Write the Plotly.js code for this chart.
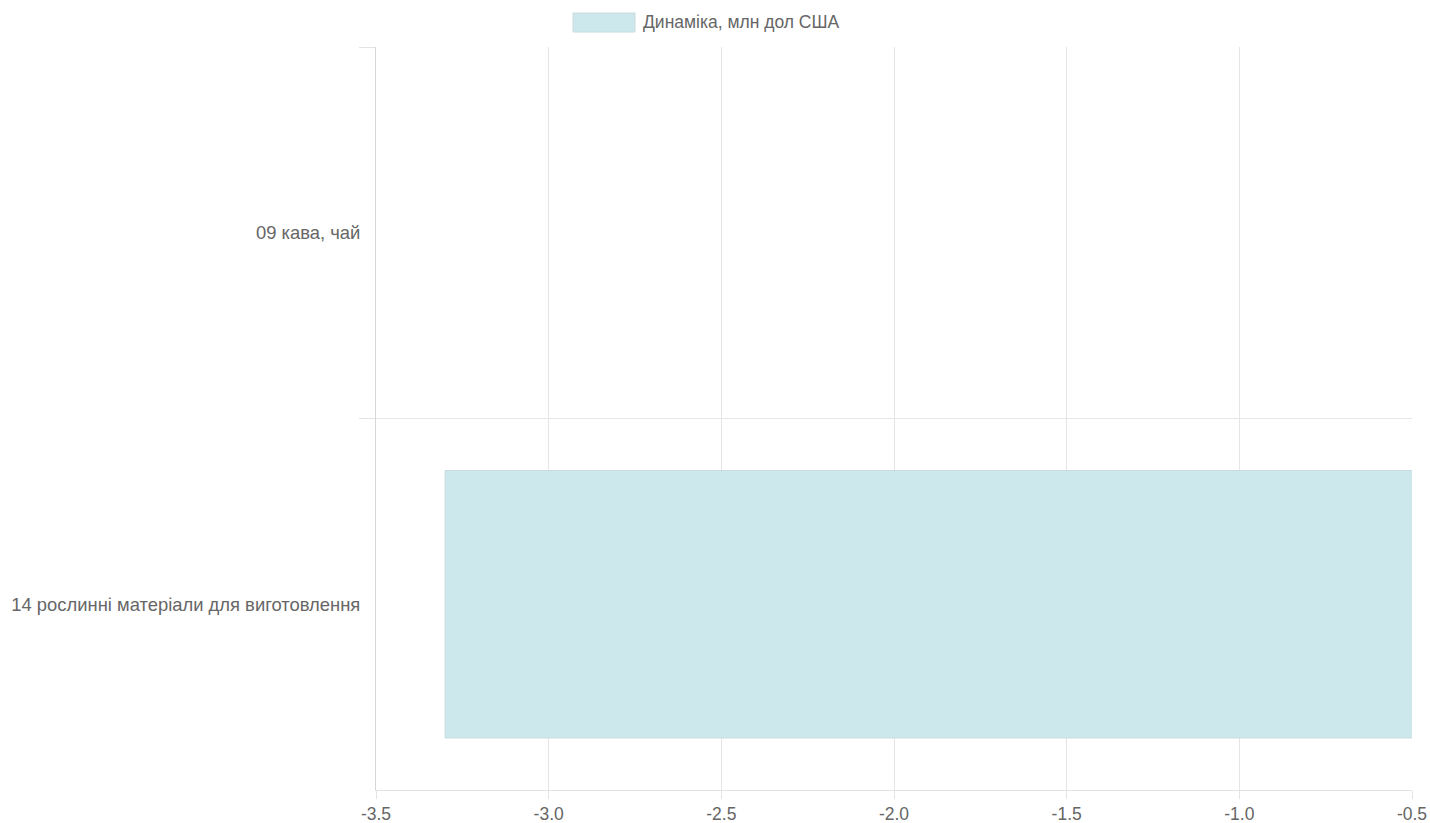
<!DOCTYPE html>
<html>
<head>
<meta charset="utf-8">
<script src="https://cdn.plot.ly/plotly-3.0.1.min.js"></script>
<style>html,body{margin:0;padding:0;background:#fff;}#chart{width:1430px;height:823px;}</style>
</head>
<body>
<div id="chart"></div>
<script>
const categories = ["09 кава, чай", "14 рослинні матеріали для виготовлення"];
const values = [0, -3.3];
const seriesName = "Динаміка, млн дол США";
const xTickVals = [-3.5, -3.0, -2.5, -2.0, -1.5, -1.0, -0.5];

const font = {family: "Liberation Sans, Arial, sans-serif", size: 17.5, color: "#666"};
const yFont = {family: "Liberation Sans, Arial, sans-serif", size: 18.4, color: "#666"};
const barFill = "rgb(204,232,236)";
const barLine = "rgb(200,220,224)";

const trace = {
  type: "bar",
  orientation: "h",
  y: categories,
  x: values,
  name: seriesName,
  width: 0.72,
  marker: {color: barFill, opacity: 1, line: {color: barLine, width: 1}},
  showlegend: false,
  hoverinfo: "x+y"
};

const layout = {
  width: 1430, height: 823,
  margin: {l: 376, r: 18, t: 47, b: 33, pad: 0},
  paper_bgcolor: "#fff", plot_bgcolor: "#fff",
  font: font,
  xaxis: {
    range: [-3.5, -0.5],
    tickvals: xTickVals,
    ticktext: xTickVals.map(v => v.toFixed(1)),
    showgrid: true, gridcolor: "rgba(0,0,0,0.1)", gridwidth: 1,
    zeroline: false,
    showline: true, linecolor: "#e3e3e3", linewidth: 1,
    ticks: "outside", ticklen: 8, tickcolor: "#e3e3e3",
    tickfont: font,
    layer: "above traces"
  },
  yaxis: {
    type: "category",
    categoryarray: categories,
    range: [1.5, -0.5],
    tickson: "boundaries",
    showgrid: true, gridcolor: "#e6e6e6", gridwidth: 1,
    zeroline: false,
    showline: true, linecolor: "#d6d6d6", linewidth: 1,
    ticks: "outside", ticklen: 16, tickcolor: "#e3e3e3",
    ticklabelstandoff: 11,
    tickfont: yFont
  },
  shapes: [
    {type: "rect", xref: "paper", yref: "paper",
     x0: (573 - 376) / 1036, x1: (635 - 376) / 1036,
     y0: 1 + (47 - 32) / 743, y1: 1 + (47 - 13) / 743,
     fillcolor: barFill, line: {color: barLine, width: 1}}
  ],
  annotations: [
    {xref: "paper", yref: "paper", x: (641 - 376) / 1036, y: 1 + (47 - 22.5) / 743,
     xanchor: "left", yanchor: "middle", showarrow: false,
     text: seriesName, font: font}
  ]
};

Plotly.newPlot("chart", [trace], layout, {displayModeBar: false, responsive: false});
</script>
</body>
</html>
